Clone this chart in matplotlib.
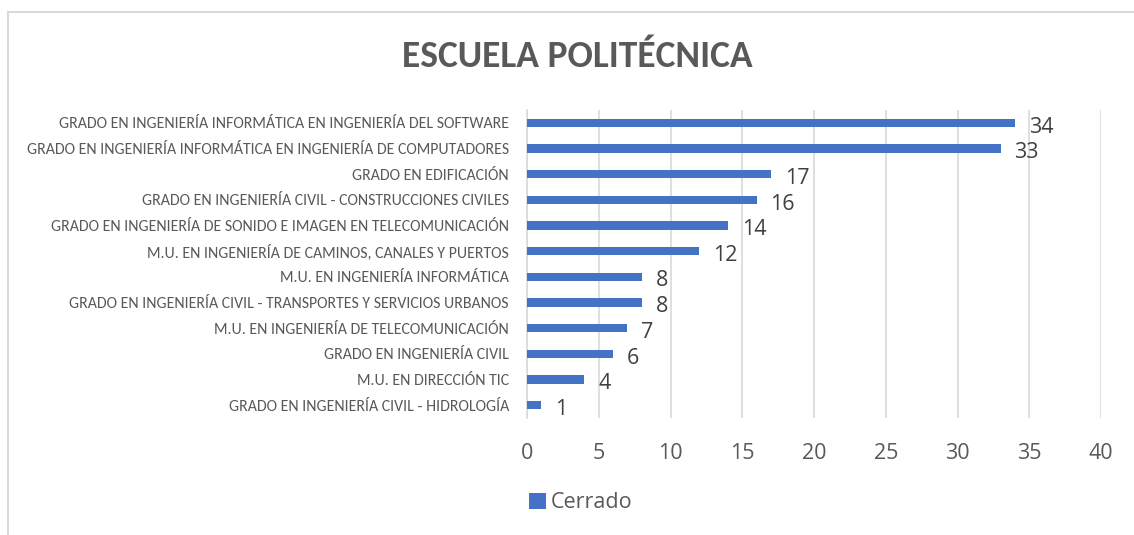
import matplotlib.pyplot as plt
from matplotlib.patches import Rectangle, Patch

plt.rcParams['font.family'] = ['Carlito', 'DejaVu Sans']

programas = [
    "GRADO EN INGENIERÍA INFORMÁTICA EN INGENIERÍA DEL SOFTWARE",
    "GRADO EN INGENIERÍA INFORMÁTICA EN INGENIERÍA DE COMPUTADORES",
    "GRADO EN EDIFICACIÓN",
    "GRADO EN INGENIERÍA CIVIL - CONSTRUCCIONES CIVILES",
    "GRADO EN INGENIERÍA DE SONIDO E IMAGEN EN TELECOMUNICACIÓN",
    "M.U. EN INGENIERÍA DE CAMINOS, CANALES Y PUERTOS",
    "M.U. EN INGENIERÍA INFORMÁTICA",
    "GRADO EN INGENIERÍA CIVIL - TRANSPORTES Y SERVICIOS URBANOS",
    "M.U. EN INGENIERÍA DE TELECOMUNICACIÓN",
    "GRADO EN INGENIERÍA CIVIL",
    "M.U. EN DIRECCIÓN TIC",
    "GRADO EN INGENIERÍA CIVIL - HIDROLOGÍA",
]
cerrado = [34, 33, 17, 16, 14, 12, 8, 8, 7, 6, 4, 1]
x_ticks = [0, 5, 10, 15, 20, 25, 30, 35, 40]

azul = '#4472C4'
gris = '#595959'
num_font = ['Open Sans', 'DejaVu Sans']

fig = plt.figure(figsize=(11.34, 5.35), dpi=100)
# marco del grafico (cortado a la derecha y abajo como en la captura)
fig.patches.append(Rectangle((8 / 1134, -0.05), 1.2, 1 - 12 / 535 + 0.05,
                             transform=fig.transFigure, fill=False,
                             edgecolor='#d9d9d9', linewidth=1.5))

ax = fig.add_axes([527 / 1134, 1 - 418 / 535, 574 / 1134, 308 / 535])
y = list(range(len(programas)))
ax.barh(y, cerrado, height=0.32, color=azul, zorder=3)
ax.set_ylim(len(programas) - 0.5, -0.5)
ax.set_xlim(0, 40)
ax.set_xticks(x_ticks)
ax.set_yticks(y)
ax.set_yticklabels(programas, fontsize=11.4, color=gris)
ax.tick_params(axis='y', length=0, pad=13)
ax.tick_params(axis='x', length=0, pad=18)
for lbl in ax.get_xticklabels():
    lbl.set_family(num_font)
    lbl.set_fontsize(15.5)
    lbl.set_color(gris)
ax.grid(axis='x', color='#d9d9d9', linewidth=1.2, zorder=0)
for s in ['top', 'right', 'bottom']:
    ax.spines[s].set_visible(False)
ax.spines['left'].set_color('#d9d9d9')
ax.spines['left'].set_linewidth(1.2)

for yi, v in zip(y, cerrado):
    ax.annotate(str(v), (v, yi), xytext=(10, -3), textcoords='offset points',
                ha='left', va='center', fontsize=15.5, color='#404040',
                family=num_font)

fig.text(577 / 1134, 1 - 57 / 535, "ESCUELA POLITÉCNICA", ha='center', va='center',
         fontsize=27, fontweight='bold', color=gris)

fig.legend(handles=[Patch(facecolor=azul)], labels=["Cerrado"],
           loc='center', bbox_to_anchor=(581 / 1134, 1 - 503 / 535),
           frameon=False, handlelength=0.75, handleheight=0.75,
           handletextpad=0.25, labelcolor=gris,
           prop={'family': num_font, 'size': 15.5})

fig.savefig('out.png', dpi=100)
